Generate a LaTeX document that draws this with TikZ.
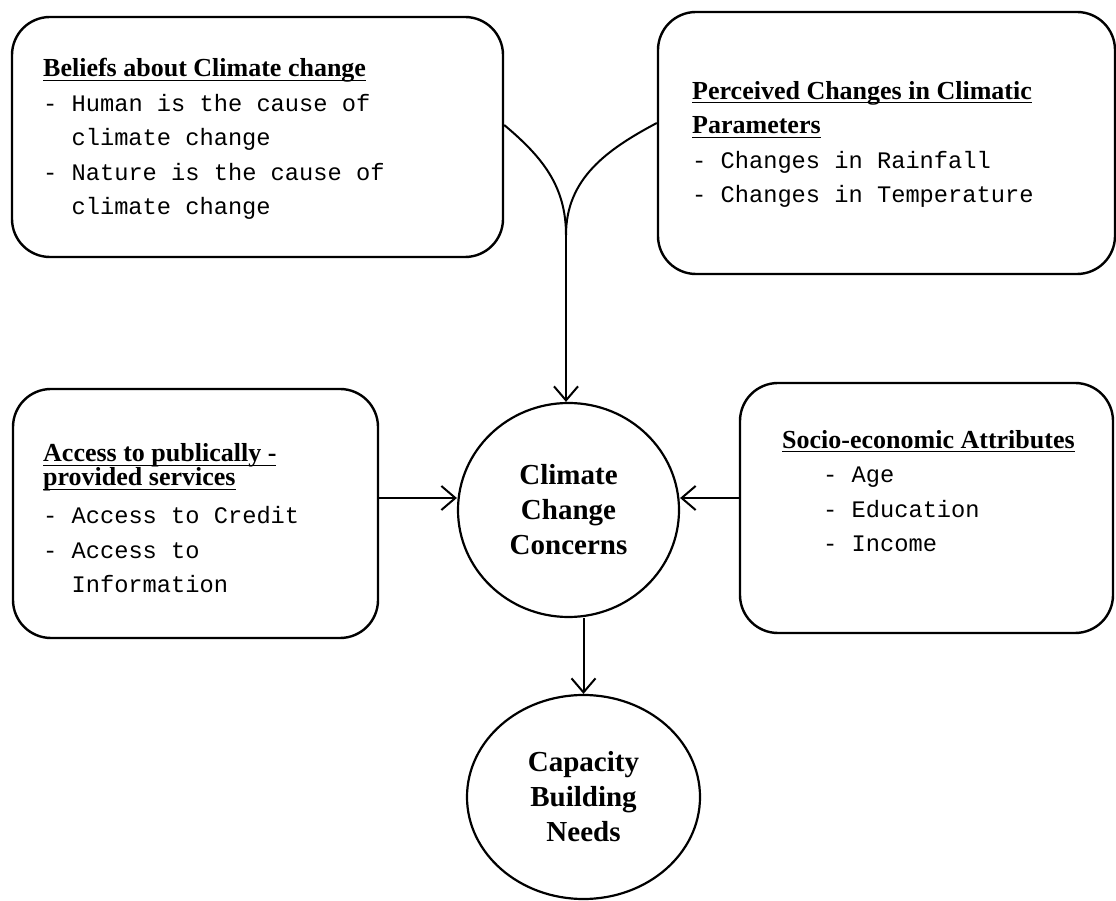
\documentclass[tikz,border=0pt]{standalone}
\usepackage{fontspec}
\setmainfont{Liberation Serif}
\newfontfamily\monofam{Liberation Mono}
\usetikzlibrary{arrows.meta,shapes.geometric}
\newsavebox\ulbox
\newcommand\myul[1]{\sbox\ulbox{#1}\rlap{\rule[-4pt]{\wd\ulbox}{1.3pt}}\usebox\ulbox}
\newcommand\ttl{\rmfamily\fontsize{26}{34.5}\selectfont\bfseries}
\newcommand\mono{\monofam\fontsize{23.7}{34.5}\selectfont}
\begin{document}
\begin{tikzpicture}[x=1pt,y=1pt,
  box/.style={draw,line width=2.4pt,rounded corners=38pt,inner sep=0pt},
  bub/.style={draw,ellipse,line width=2.2pt,inner sep=0pt,align=center,font=\fontsize{29}{35}\selectfont\bfseries},
  txt/.style={anchor=base west,align=left,inner sep=0pt,font=\mono},
  arr/.style={line width=2pt,-{Straight Barb[length=14pt,width=24pt]}},
  lnk/.style={line width=2pt}]
\useasboundingbox (0,0) rectangle (1116,900);
\fill[white] (0,0) rectangle (1116,900);
% boxes
\node[box,minimum width=491pt,minimum height=240pt] (b1) at (257.5,763) {};
\node[box,minimum width=457pt,minimum height=262pt] (b2) at (886.5,757) {};
\node[box,minimum width=365pt,minimum height=249pt] (b3) at (195.5,386.5) {};
\node[box,minimum width=373pt,minimum height=250pt] (b4) at (926.5,392) {};
% circles
\node[bub,minimum width=221pt,minimum height=214pt] (c1) at (568.5,390) {Climate\\Change\\Concerns};
\node[bub,minimum width=233pt,minimum height=204pt] (c2) at (583.5,103) {Capacity\\Building\\Needs};
% texts (anchored at the baseline of the last line)
\node[txt] (t1) at (43,685) {{\ttl\myul{Beliefs about Climate change}}\\
- Human is the cause of\\
\hspace*{28.4pt}climate change\\
- Nature is the cause of\\
\hspace*{28.4pt}climate change};
\node[txt] (t2) at (692,697) {{\ttl\myul{Perceived Changes in Climatic}}\\
{\ttl\myul{Parameters}}\\
- Changes in Rainfall\\
- Changes in Temperature};
\node[txt] (t3) at (43,307) {{\ttl\myul{Access to publically -}}\\[-10.5pt]
{\ttl\myul{provided services}}\\[3.5pt]
- Access to Credit\\
- Access to\\
\hspace*{28.4pt}Information};
\node[txt] (t4) at (782,348) {{\ttl\myul{Socio-economic Attributes}}\\
\hspace*{41pt}- Age\\
\hspace*{41pt}- Education\\
\hspace*{41pt}- Income};
% connectors
\coordinate (j) at (566,665);
\draw[lnk] ([yshift=12pt]b1.east) to[out=-40,in=90] (j);
\draw[lnk] ([yshift=20pt]b2.west) to[out=-152,in=90] (j);
\draw[arr] (j) -- (j |- c1.north);
\draw[arr] ([yshift=15.5pt]b3.east) -- ([yshift=12pt]c1.west);
\draw[arr] ([yshift=10pt]b4.west) -- ([yshift=12pt]c1.east);
\draw[arr] (c2.north |- c1.south) -- (c2.north);
\end{tikzpicture}
\end{document}
